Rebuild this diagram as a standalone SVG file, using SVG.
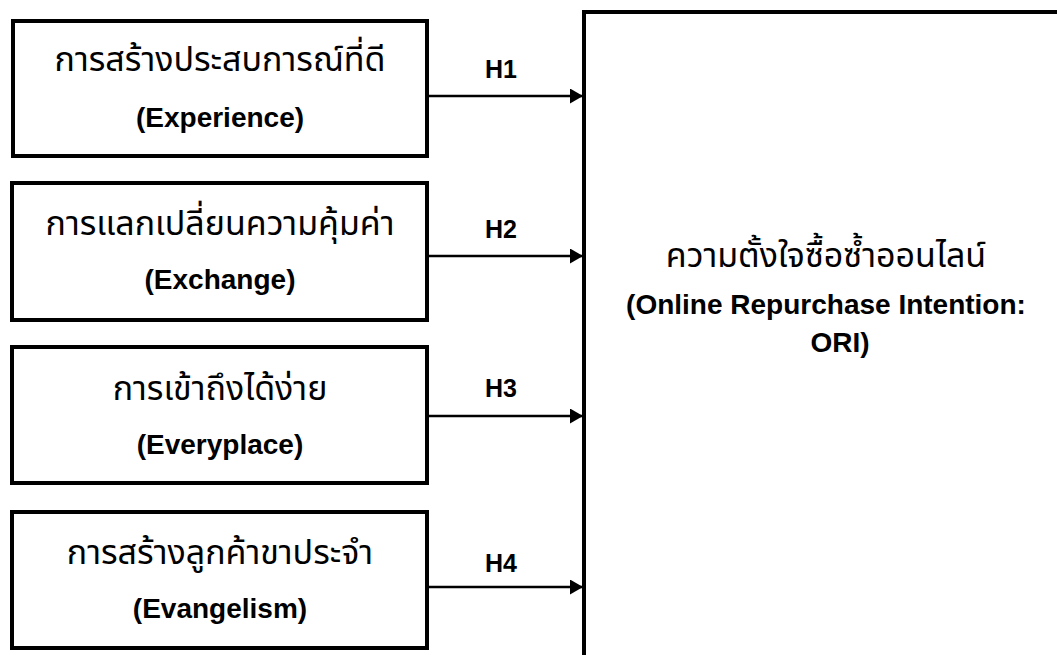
<svg xmlns="http://www.w3.org/2000/svg" width="1057" height="655" viewBox="0 0 1057 655">
<defs>
<style>
.box{fill:#fff;stroke:#000;stroke-width:4}
.th{font-family:"Noto Sans Thai","Noto Sans","DejaVu Sans",sans-serif;font-size:34px;fill:#000;text-anchor:middle}
.en{font-family:"Liberation Sans",Arial,sans-serif;font-weight:bold;font-size:28px;fill:#000;text-anchor:middle}
.h{font-family:"Liberation Sans",Arial,sans-serif;font-weight:bold;font-size:25px;fill:#000;text-anchor:middle}
.conn{stroke:#000;stroke-width:2.5;fill:none}
</style>
<marker id="arr" markerUnits="userSpaceOnUse" markerWidth="14" markerHeight="16" refX="13" refY="7.5" orient="auto">
<path d="M0,0 L13,7.5 L0,15 Z" fill="#000"/>
</marker>
</defs>
<rect width="1057" height="655" fill="#fff"/>
<g id="ori">
<rect class="box" x="584" y="12" width="600" height="700"/>
<text class="th" x="826" y="267">ความตั้งใจซื้อซ้ำออนไลน์</text>
<text class="en" x="826" y="314">(Online Repurchase Intention:</text>
<text class="en" x="840" y="352">ORI)</text>
</g>
<g id="experience">
<rect class="box" x="13" y="21" width="414" height="135"/>
<text class="th" x="220" y="71">การสร้างประสบการณ์ที่ดี</text>
<text class="en" x="220" y="127">(Experience)</text>
</g>
<g id="exchange">
<rect class="box" x="12" y="183" width="415" height="137"/>
<text class="th" x="220" y="235">การแลกเปลี่ยนความคุ้มค่า</text>
<text class="en" x="220" y="289">(Exchange)</text>
</g>
<g id="everyplace">
<rect class="box" x="12" y="347" width="415" height="136"/>
<text class="th" x="220" y="400">การเข้าถึงได้ง่าย</text>
<text class="en" x="220" y="454">(Everyplace)</text>
</g>
<g id="evangelism">
<rect class="box" x="12" y="512" width="415" height="136"/>
<text class="th" x="220" y="564">การสร้างลูกค้าขาประจำ</text>
<text class="en" x="220" y="618">(Evangelism)</text>
</g>
<g id="connectors">
<line class="conn" x1="429" y1="96" x2="583" y2="96" marker-end="url(#arr)"/>
<line class="conn" x1="429" y1="256" x2="583" y2="256" marker-end="url(#arr)"/>
<line class="conn" x1="429" y1="416" x2="583" y2="416" marker-end="url(#arr)"/>
<line class="conn" x1="429" y1="587" x2="583" y2="587" marker-end="url(#arr)"/>
<text class="h" x="501" y="78">H1</text>
<text class="h" x="501" y="238">H2</text>
<text class="h" x="501" y="397">H3</text>
<text class="h" x="501" y="572">H4</text>
</g>
</svg>
